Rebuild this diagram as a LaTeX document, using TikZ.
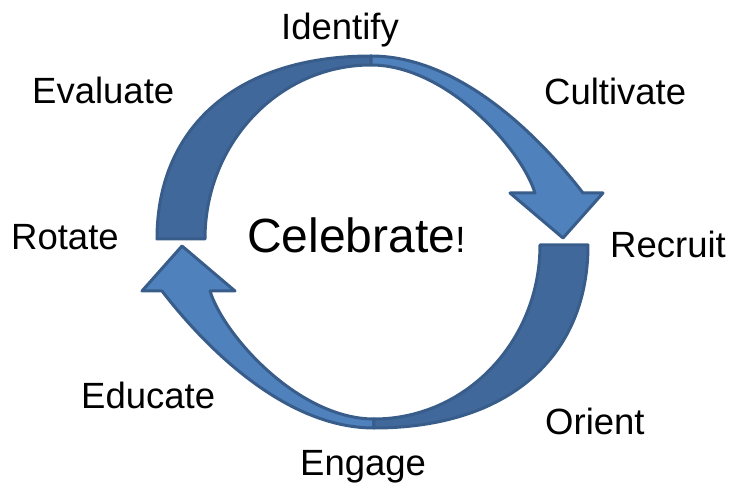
\documentclass[tikz,border=0pt]{standalone}
\usepackage{fontspec}
\setmainfont{Liberation Sans}
\usepackage{tikz}
\usetikzlibrary{positioning}

\definecolor{frontblue}{HTML}{4F81BD}
\definecolor{backblue}{HTML}{41689B}
\definecolor{rimblue}{HTML}{385D8A}

\begin{document}
\begin{tikzpicture}[x=1pt, y=1pt,
    word/.style={font=\fontsize{36.5}{40}\selectfont, inner sep=0pt, anchor=base west},
    front/.style={fill=frontblue, draw=rimblue, line width=3pt, line join=round},
    back/.style={fill=backblue, draw=rimblue, line width=3pt, line join=round}]
    \useasboundingbox (-371,-244) rectangle (363,243);
    % the two bent arrows, the lower one is the upper one turned round
    \foreach \turn in {0,180} {
        \begin{scope}[rotate around={\turn:(1.5,1)}]
            \path[front] (0,187) .. controls (100,187) and (185,85) .. (212,50)
                -- (232,50) -- (192,5) -- (139,50) -- (164,50)
                .. controls (150,95) and (75,178) .. (0,178) -- cycle;
            \path[back] (-214,4) .. controls (-214,117) and (-133,187) .. (0,187)
                -- (0,178) .. controls (-92,178) and (-166,100) .. (-166,4) -- cycle;
        \end{scope}
    }
    \node[word] (identify)  at (-90,203)   {Identify};
    \node[word] (evaluate)  at (-339,139)  {Evaluate};
    \node[word] (cultivate) at (173,138)   {Cultivate};
    \node[word] (rotate)    at (-360,-7)   {Rotate};
    \node[word] (recruit)   at (239,-15)   {Recruit};
    \node[word] (educate)   at (-290,-166) {Educate};
    \node[word] (orient)    at (174,-191)  {Orient};
    \node[word] (engage)    at (-71,-233)  {Engage};
    \node[word] (celebrate) at (-124,-10)
        {\fontsize{48}{52}\selectfont Celebrate\fontsize{36.5}{40}\selectfont !};
\end{tikzpicture}
\end{document}
